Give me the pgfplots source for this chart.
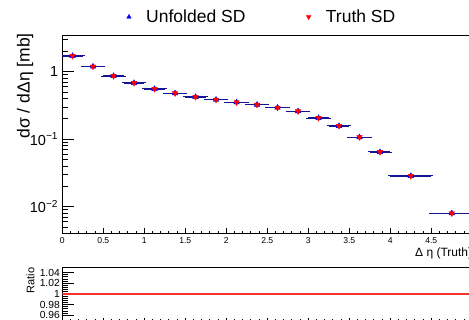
\documentclass[border=0pt]{standalone}
\usepackage{fontspec}
\setmainfont{Liberation Sans}
\usepackage{pgfplots}
\pgfplotsset{compat=1.18}
\usepackage{pgfplotstable}

\definecolor{unfblue}{RGB}{0,0,255}
\definecolor{barblue}{RGB}{20,20,150}
\definecolor{truthred}{RGB}{255,0,0}
\definecolor{ratiored}{RGB}{245,50,50}

% bin centre, half width, dsigma/d(Delta eta) [mb]
\pgfplotstableread{
x     ex     y
0.125 0.125  1.71
0.375 0.125  1.19
0.625 0.125  0.863
0.875 0.125  0.680
1.125 0.125  0.555
1.375 0.125  0.479
1.625 0.125  0.422
1.875 0.125  0.385
2.125 0.125  0.352
2.375 0.125  0.324
2.625 0.125  0.293
2.875 0.125  0.259
3.125 0.125  0.206
3.375 0.125  0.157
3.625 0.125  0.107
3.875 0.125  0.0646
4.25  0.25   0.0285
4.75  0.25   0.00798
}\sdtable

\begin{document}
\begin{tikzpicture}
\useasboundingbox (0,0) rectangle (469pt,320pt);
\clip (0,0) rectangle (469pt,320pt);

% upper pad
\begin{axis}[
  at={(62.3pt,86pt)}, anchor=south west,
  scale only axis, width=410pt, height=198pt,
  xmin=0, xmax=5,
  ymode=log, ymin=0.00394, ymax=3.38,
  axis line style={line width=1pt},
  tick align=inside, tick pos=left,
  every tick/.style={black, line width=0.9pt},
  xtick={0,0.5,...,5}, minor x tick num=4,
  xtick style={/pgfplots/major tick length=6pt, /pgfplots/minor tick length=3pt},
  ytick={0.01,0.1,1},
  yticklabels={10\textsuperscript{−2},10\textsuperscript{−1},1},
  minor ytick={0.004,0.005,0.006,0.007,0.008,0.009,0.02,0.03,0.04,0.05,0.06,0.07,0.08,0.09,0.2,0.3,0.4,0.5,0.6,0.7,0.8,0.9,2,3},
  ytick style={/pgfplots/major tick length=12pt, /pgfplots/minor tick length=6pt},
  /pgf/number format/assume math mode=true,
  xticklabel style={font=\fontsize{8.6}{9}\selectfont, inner sep=0pt, yshift=-3.3pt},
  yticklabel style={font=\fontsize{14.5}{15}\selectfont, inner sep=0pt, xshift=-4pt},
  ylabel={dσ / dΔη [mb]},
  every axis y label/.style={at={(axis description cs:-0.091,1.015)}, rotate=90, anchor=east, inner sep=0pt, font=\fontsize{17.5}{18}\selectfont},
  xlabel={Δ η (Truth)},
  every axis x label/.style={at={(axis description cs:1,0)}, anchor=north east, inner sep=0pt, yshift=-13.5pt, font=\fontsize{12}{13}\selectfont},
  legend columns=2,
  legend style={draw=none, fill=none, inner xsep=0pt, inner ysep=0pt,
    at={(axis description cs:0.1566,1.096)}, anchor=west,
    font=\fontsize{17.5}{18}\selectfont,
    /tikz/every odd column/.append style={column sep=13pt},
    /tikz/every even column/.append style={column sep=59pt}},
  legend image post style={mark size=2.6pt},
]
\addplot[only marks, mark=triangle*, mark size=3.2pt, color=unfblue,
  error bars/.cd, x dir=both, x explicit,
  error bar style={barblue, line width=1.4pt},
  error mark options={barblue, mark size=2.2pt, line width=1pt}]
  table[x=x, y=y, x error=ex]{\sdtable};
\addlegendentry{Unfolded SD}
\addplot[only marks, mark=triangle*, mark size=3.2pt, mark options={rotate=180}, color=truthred]
  table[x=x, y=y]{\sdtable};
\addlegendentry{Truth SD}
\end{axis}

% ratio pad
\begin{axis}[
  at={(62.3pt,-0.6pt)}, anchor=south west,
  scale only axis, width=410pt, height=53.3pt,
  xmin=0, xmax=5, ymin=0.95, ymax=1.05,
  axis line style={line width=1pt},
  tick align=inside, tick pos=left,
  every tick/.style={black, line width=0.9pt},
  xtick={0,0.5,...,5}, minor x tick num=4, xticklabels={},
  xtick style={/pgfplots/major tick length=2.5pt, /pgfplots/minor tick length=1.5pt},
  ytick={0.96,0.98,1,1.02,1.04}, minor y tick num=4,
  ytick style={/pgfplots/major tick length=12pt, /pgfplots/minor tick length=6pt},
  /pgf/number format/assume math mode=true,
  /pgf/number format/fixed,
  yticklabel style={font=\fontsize{10.3}{11}\selectfont, inner sep=0pt, xshift=-2.3pt},
  ylabel={Ratio},
  every axis y label/.style={at={(axis description cs:-0.0776,1)}, rotate=90, anchor=east, inner sep=0pt, font=\fontsize{11}{12}\selectfont},
]
\addplot[ratiored, line width=1.6pt] coordinates {(0,1) (5,1)};
\end{axis}
\end{tikzpicture}
\end{document}
